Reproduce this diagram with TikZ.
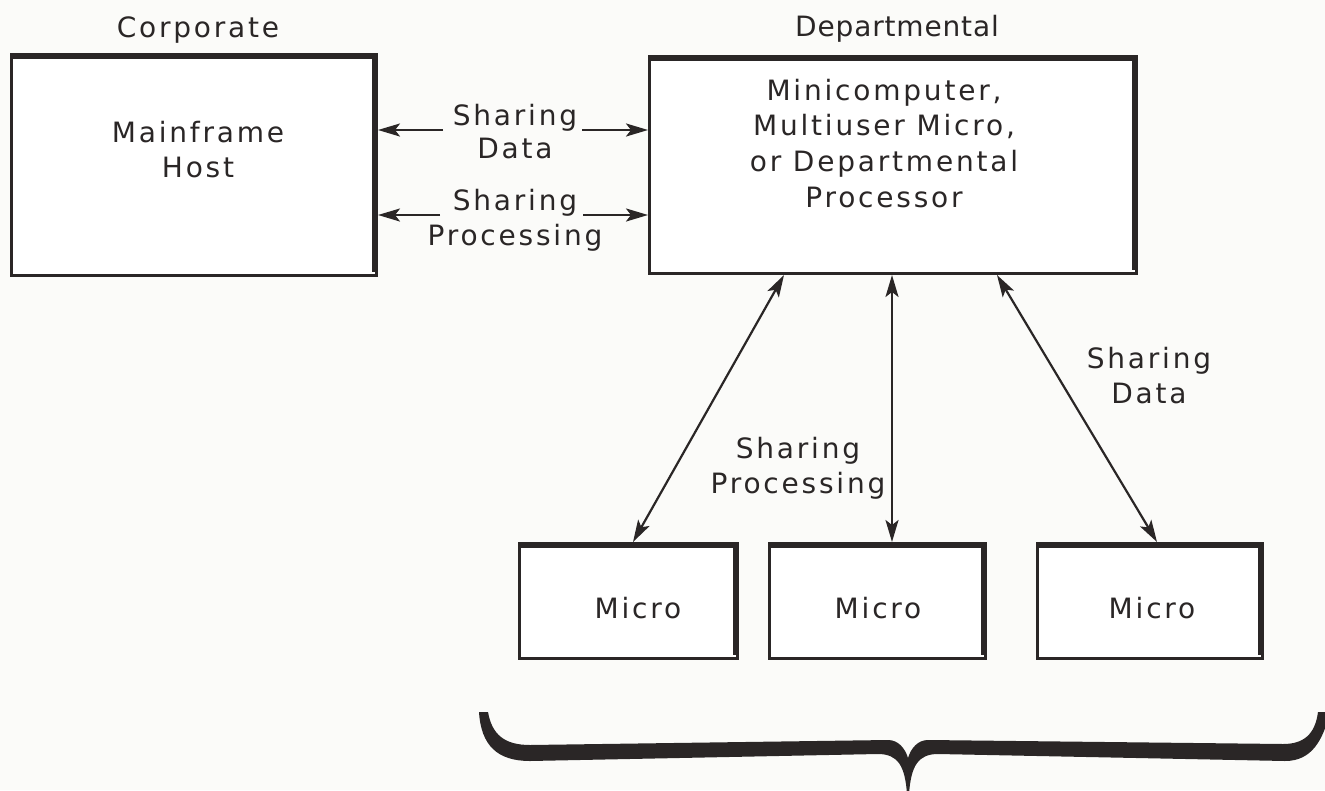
\documentclass[tikz,border=0pt]{standalone}
\usepackage{fontspec}
\setmainfont{DejaVu Sans}[LetterSpace=10]
\usetikzlibrary{arrows.meta}

\definecolor{ink}{HTML}{2A2626}
\definecolor{paper}{HTML}{FBFBF9}

% heavy top and right edges that give each box its raised look
\newcommand\raisededges[1]{%
  \draw[heavyedge] ([yshift=-3pt]#1.north west) -- ([xshift=-3pt,yshift=-3pt]#1.north east)
    -- ([xshift=-3pt,yshift=5pt]#1.south east);}

\begin{document}
\begin{tikzpicture}[x=1pt,y=-1pt,
  box/.style={draw=ink, line width=3pt, inner sep=0pt, fill=white},
  heavyedge/.style={draw=ink, line width=6pt, line cap=butt, line join=miter},
  txt/.style={anchor=base, inner sep=0pt, text=ink, font=\fontsize{28}{35}\selectfont},
  tight/.style={font=\fontsize{28}{35}\selectfont\addfontfeature{LetterSpace=3}},
  tip/.tip={Stealth[length=22pt,width=13pt,inset=5pt]},
  arr/.style={draw=ink, line width=2.4pt, -tip},
  biarr/.style={draw=ink, line width=2.2pt, tip-tip}]

% page
\fill[paper] (0,0) rectangle (1325,790);
\useasboundingbox (0,0) rectangle (1325,790);

% boxes
\node[box, minimum width=365pt, minimum height=221pt] (main) at (194,165) {};
\node[box, minimum width=487pt, minimum height=217pt] (dept) at (893,165) {};
\node[box, minimum width=218pt, minimum height=115pt] (m1) at (628.5,601) {};
\node[box, minimum width=216pt, minimum height=115pt] (m2) at (877.5,601) {};
\node[box, minimum width=225pt, minimum height=115pt] (m3) at (1150,601) {};
\raisededges{main}
\raisededges{dept}
\raisededges{m1}
\raisededges{m2}
\raisededges{m3}

% headings
\node[txt] (tcorp) at (198,37) {Corporate};
\node[txt, tight] (tdept) at (897,36) {Departmental};

% box texts
\node[txt] (mf1) at (198,142) {Mainframe};
\node[txt] (mf2) at (198,177) {Host};
\node[txt] (dp1) at (884,100) {Minicomputer,};
\node[txt] (dp2) at (884,135.7) {Multiuser Micro,};
\node[txt] (dp3) at (884,171.3) {or Departmental};
\node[txt] (dp4) at (884,207) {Processor};
\node[txt] (mt1) at (638,618) {Micro};
\node[txt] (mt2) at (878,618) {Micro};
\node[txt] (mt3) at (1152,618) {Micro};

% labels on the connectors
\node[txt] (sa1) at (515,125) {Sharing};
\node[txt] (sa2) at (515,158) {Data};
\node[txt] (sb1) at (515,210) {Sharing};
\node[txt] (sb2) at (515,245) {Processing};
\node[txt] (sc1) at (798,458) {Sharing};
\node[txt] (sc2) at (798,493) {Processing};
\node[txt] (sd1) at (1149,368) {Sharing};
\node[txt] (sd2) at (1149,403) {Data};

% corporate <-> departmental
\coordinate (aL) at (443,130);
\coordinate (aR) at (582,130);
\coordinate (bL) at (440,215);
\coordinate (bR) at (583,215);
\draw[arr] (aL) -- (aL -| main.east);
\draw[arr] (aR) -- (aR -| dept.west);
\draw[arr] (bL) -- (bL -| main.east);
\draw[arr] (bR) -- (bR -| dept.west);

% departmental <-> micros
\draw[biarr] (784,0 |- dept.south) -- (633,0 |- m1.north);
\draw[biarr] (892,0 |- dept.south) -- (892,0 |- m2.north);
\draw[biarr] (997,0 |- dept.south) -- (1157,0 |- m3.north);

% brace under the micros
\fill[ink] (479,712)
  .. controls (481,745) and (497,761) .. (530,761)
  -- (878,754) .. controls (898,754) and (905,766) .. (907,794)
  -- (909,794) .. controls (911,766) and (918,754) .. (938,754)
  -- (1285,761) .. controls (1312,761) and (1323,740) .. (1330,712)
  -- (1318,712) .. controls (1315,735) and (1303,744) .. (1283,744)
  -- (928,740) .. controls (918,740) and (911,748) .. (908,758)
  .. controls (905,748) and (898,740) .. (888,740)
  -- (530,745) .. controls (505,745) and (492,735) .. (488,712) -- cycle;
\end{tikzpicture}
\end{document}
